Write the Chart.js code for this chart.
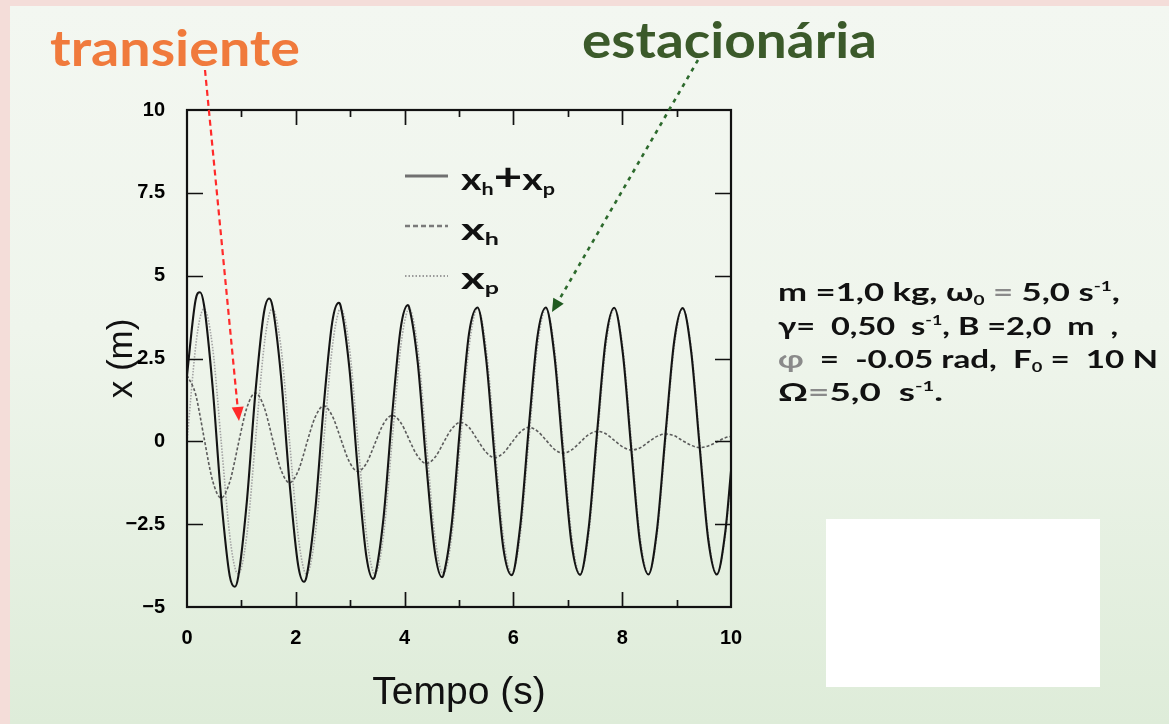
<!DOCTYPE html>
<html><head><meta charset="utf-8">
<script src="https://cdn.jsdelivr.net/npm/chart.js@4.4.0/dist/chart.umd.min.js"></script>
<style>
html,body{margin:0;padding:0;width:1169px;height:724px;overflow:hidden;background:#f4ddd9;}
#bg{position:absolute;left:10px;top:6px;right:0;bottom:0;background:linear-gradient(to bottom,#f3f7f1 0%,#eff5ec 45%,#deecd9 100%);}
#c{position:absolute;left:0;top:0;}
#ov{position:absolute;left:0;top:0;pointer-events:none;}
.t{position:absolute;height:0;display:flex;align-items:center;white-space:nowrap;transform-origin:0 0;font-family:Lato,"Open Sans",sans-serif;font-weight:700;}
.t > span{display:inline-block;white-space:nowrap;}
.ann{font-size:50px;}
.par{font-size:25px;color:#111;}
.leg{font-size:31px;color:#111;left:461px;}
sub{font-size:55%;vertical-align:-0.32em;line-height:0;}
sup{font-size:55%;vertical-align:0.72em;line-height:0;}
.g{color:#8a8a8a;}
.plus{font-size:125%;font-weight:700;line-height:0;}
#wbox{position:absolute;left:826px;top:519px;width:274px;height:168px;background:#fff;}
</style></head>
<body>
<div id="bg"></div>
<canvas id="c" width="1169" height="724"></canvas>
<svg id="ov" width="1169" height="724">
  <line x1="405" y1="176" x2="448" y2="176" stroke="#707070" stroke-width="3"/>
  <line x1="405" y1="226" x2="448" y2="226" stroke="#7a7a7a" stroke-width="2.5" stroke-dasharray="5,3"/>
  <line x1="405" y1="276" x2="448" y2="276" stroke="#9a9a9a" stroke-width="2" stroke-dasharray="1.5,2"/>
  <line x1="205" y1="70" x2="237.6" y2="407" stroke="#ff2a2a" stroke-width="2.2" stroke-dasharray="6,4"/>
  <polygon points="239,421 243.7,406.4 231.7,407.6" fill="#ff2a2a"/>
  <line x1="698" y1="60" x2="558.5" y2="300.8" stroke="#2d6a2d" stroke-width="2.6" stroke-dasharray="4,5"/>
  <polygon points="552,312 563.7,303.8 553.3,297.8" fill="#1f5a1f"/>
</svg>
<div class="t ann" id="a1" style="left:50px;top:47px;color:#f07a3c;"><span>transiente</span></div>
<div class="t ann" id="a2" style="left:582px;top:39px;color:#3b5a2a;"><span>estacionária</span></div>
<div class="t leg" id="l1" style="top:178px;"><span>x<sub>h</sub><span class="plus">+</span>x<sub>p</sub></span></div>
<div class="t leg" id="l2" style="top:228px;"><span>x<sub>h</sub></span></div>
<div class="t leg" id="l3" style="top:277px;"><span>x<sub>p</sub></span></div>
<div class="t par" id="p1" style="left:778px;top:291px;"><span>m =1,0 kg, ω<sub>0</sub>&nbsp;<span class="g">=</span>&nbsp;5,0 s<sup>-1</sup>,</span></div>
<div class="t par" id="p2" style="left:778px;top:325px;"><span>γ= &nbsp;0,50 &nbsp;s<sup>-1</sup>, B =2,0 &nbsp;m &nbsp;,</span></div>
<div class="t par" id="p3" style="left:778px;top:358px;"><span><span class="g">φ</span>&nbsp; = &nbsp;-0.05 rad, &nbsp;F<sub>0</sub> = &nbsp;10 N</span></div>
<div class="t par" id="p4" style="left:778px;top:391px;"><span>Ω<span class="g">=</span>5,0 &nbsp;s<sup>-1</sup>.</span></div>
<div id="wbox"></div>
<script>
// Tempo (s)
const tempo = [0, 0.157, 0.24, 0.314, 0.471, 0.628, 0.785, 0.88, 0.942, 1.1, 1.257, 1.414, 1.51, 1.571, 1.728, 1.885, 2.042, 2.15, 2.199, 2.356, 2.513, 2.67, 2.79, 2.827, 2.985, 3.142, 3.299, 3.42, 3.456, 3.613, 3.77, 3.927, 4.06, 4.084, 4.241, 4.398, 4.555, 4.69, 4.712, 4.869, 5.027, 5.184, 5.341, 5.498, 5.655, 5.812, 5.969, 6.126, 6.283, 6.44, 6.597, 6.754, 6.912, 7.069, 7.226, 7.383, 7.54, 7.697, 7.854, 8.011, 8.168, 8.325, 8.482, 8.639, 8.796, 8.954, 9.111, 9.268, 9.425, 9.582, 9.739, 9.896, 10];
// x_h (transiente)
const xh = [2.00, 1.43, 0.77, 0.10, -1.19, -1.71, -1.23, -0.58, -0.09, 1.01, 1.46, 1.05, 0.49, 0.08, -0.86, -1.25, -0.90, -0.36, -0.07, 0.73, 1.07, 0.77, 0.25, 0.07, -0.62, -0.91, -0.66, -0.21, -0.06, 0.53, 0.78, 0.57, 0.14, 0.05, -0.45, -0.67, -0.49, -0.12, -0.05, 0.38, 0.57, 0.42, 0.04, -0.33, -0.49, -0.36, -0.04, 0.28, 0.42, 0.31, 0.04, -0.24, -0.36, -0.26, -0.03, 0.20, 0.30, 0.23, 0.03, -0.17, -0.26, -0.20, -0.02, 0.15, 0.22, 0.17, 0.02, -0.12, -0.19, -0.14, -0.02, 0.11, 0.15];
// x_p (estacionária)
const xp = [0, 2.83, 3.73, 4.00, 2.83, 0, -2.83, -3.81, -4.00, -2.83, 0, 2.83, 3.82, 4.00, 2.83, 0, -2.83, -3.88, -4.00, -2.83, 0, 2.83, 3.93, 4.00, 2.83, 0, -2.83, -3.94, -4.00, -2.83, 0, 2.83, 3.97, 4.00, 2.83, 0, -2.83, -3.98, -4.00, -2.83, 0, 2.83, 4.00, 2.83, 0, -2.83, -4.00, -2.83, 0, 2.83, 4.00, 2.83, 0, -2.83, -4.00, -2.83, 0, 2.83, 4.00, 2.83, 0, -2.83, -4.00, -2.83, 0, 2.83, 4.00, 2.83, 0, -2.83, -4.00, -2.83, -1.05];
// x_h + x_p
const xhxp = [2.00, 4.26, 4.50, 4.10, 1.64, -1.71, -4.06, -4.39, -4.09, -1.82, 1.46, 3.88, 4.31, 4.08, 1.97, -1.25, -3.73, -4.24, -4.07, -2.10, 1.07, 3.60, 4.18, 4.07, 2.21, -0.91, -3.49, -4.15, -4.06, -2.30, 0.78, 3.40, 4.11, 4.05, 2.38, -0.67, -3.32, -4.10, -4.05, -2.45, 0.57, 3.25, 4.04, 2.50, -0.49, -3.19, -4.04, -2.55, 0.42, 3.14, 4.04, 2.59, -0.36, -3.09, -4.03, -2.63, 0.30, 3.06, 4.03, 2.66, -0.26, -3.03, -4.02, -2.68, 0.22, 3.00, 4.02, 2.71, -0.19, -2.97, -4.02, -2.72, -0.90];

const xTickLabels = [0, 2, 4, 6, 8, 10];
const yTickLabels = [10, 7.5, 5, 2.5, 0, -2.5, -5];
const xTickMarks = [1, 2, 3, 4, 5, 6, 7, 8, 9];
const yTickMarks = [7.5, 5, 2.5, 0, -2.5];

const pts = arr => tempo.map((t, i) => ({x: t, y: arr[i]}));

const framePlugin = {
  id: 'frame',
  afterDatasetsDraw(chart) {
    const {ctx, chartArea: a, scales: {x, y}} = chart;
    ctx.save();
    ctx.strokeStyle = '#111';
    ctx.lineWidth = 1.7;
    ctx.beginPath();
    for (const v of xTickMarks) {
      const px = Math.round(x.getPixelForValue(v)) + 0.5;
      const len = v % 2 === 0 ? 15 : 7;
      ctx.moveTo(px, a.bottom); ctx.lineTo(px, a.bottom - len);
      ctx.moveTo(px, a.top); ctx.lineTo(px, a.top + len);
    }
    for (const v of yTickMarks) {
      const py = Math.round(y.getPixelForValue(v)) + 0.5;
      ctx.moveTo(a.left, py); ctx.lineTo(a.left + 16, py);
      ctx.moveTo(a.right, py); ctx.lineTo(a.right - 16, py);
    }
    ctx.stroke();
    ctx.lineWidth = 2.2;
    ctx.strokeRect(a.left, a.top, a.right - a.left, a.bottom - a.top);
    ctx.restore();
  }
};

const tickFont = {family: '"Liberation Sans", Arial, sans-serif', weight: 'bold', size: 20};
const fmt = v => (v < 0 ? '\u2212' + Math.abs(v) : String(v));

new Chart(document.getElementById('c'), {
  type: 'line',
  data: {
    datasets: [
      {label: 'xh+xp', data: pts(xhxp), borderColor: '#141414', borderWidth: 2.1},
      {label: 'xh', data: pts(xh), borderColor: '#5c5c5c', borderWidth: 1.6, borderDash: [3, 2]},
      {label: 'xp', data: pts(xp), borderColor: '#a3a3a3', borderWidth: 1.6, borderDash: [1.5, 1.5]}
    ]
  },
  options: {
    responsive: false,
    animation: false,
    devicePixelRatio: 1,
    layout: {padding: {left: 0, top: 110, right: 438, bottom: 0}},
    elements: {point: {radius: 0}, line: {cubicInterpolationMode: 'monotone', fill: false}},
    plugins: {legend: {display: false}, tooltip: {enabled: false}},
    scales: {
      x: {
        type: 'linear', min: 0, max: 10,
        afterBuildTicks: s => { s.ticks = xTickLabels.map(v => ({value: v})); },
        afterFit: s => { s.height = 117; },
        grid: {display: false, drawTicks: false},
        border: {display: false},
        ticks: {padding: 19, font: tickFont, color: '#000', maxRotation: 0, autoSkip: false, callback: fmt},
        title: {display: true, text: 'Tempo (s)', color: '#111', font: {family: '"Liberation Sans", Arial, sans-serif', size: 39}, padding: {top: 0, bottom: 7}}
      },
      y: {
        type: 'linear', min: -5, max: 10,
        afterBuildTicks: s => { s.ticks = yTickLabels.map(v => ({value: v})); },
        afterFit: s => { s.width = 187; },
        grid: {display: false, drawTicks: false},
        border: {display: false},
        ticks: {padding: 22, font: tickFont, color: '#000', autoSkip: false, callback: fmt},
        title: {display: true, text: 'x (m)', color: '#111', font: {family: '"Liberation Sans", Arial, sans-serif', size: 35}, padding: {top: 101, bottom: 0}}
      }
    }
  },
  plugins: [framePlugin]
});

function fit(id, w) {
  const el = document.getElementById(id);
  const cw = el.getBoundingClientRect().width;
  el.style.transform = 'scaleX(' + (w / cw) + ')';
}
fit('a1', 250); fit('a2', 295);
fit('p1', 342); fit('p2', 340); fit('p3', 380); fit('p4', 165);
fit('l1', 94); fit('l2', 38); fit('l3', 38);
</script>
</body></html>
